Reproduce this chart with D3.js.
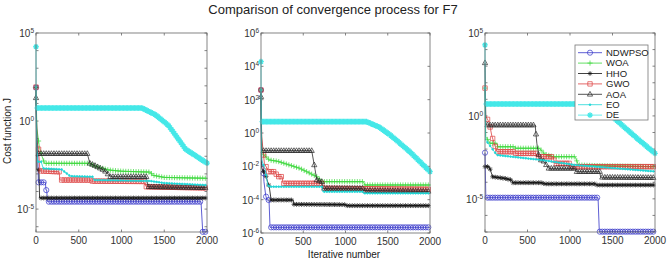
<!DOCTYPE html>
<html>
<head>
<meta charset="utf-8">
<style>
  body { margin: 0; background: #fff; }
  svg { display: block; font-family: "Liberation Sans", Arial, sans-serif; }
  .box { fill: none; stroke: #666; stroke-width: 0.8px; }
  .tick { stroke: #666; stroke-width: 0.8px; }
  .tick-label { font-size: 10px; fill: #333; }
</style>
</head>
<body>
<svg id="chart" width="668" height="261"></svg>
<script src="https://cdn.jsdelivr.net/npm/d3@7"></script>
<script>
// algorithm names, in plotting / legend order
const algorithms = ["NDWPSO", "WOA", "HHO", "GWO", "AOA", "EO", "DE"];
const iterTicks = [0, 500, 1000, 1500, 2000];

// every series: [iteration, log10(cost)]
// left panel
const a_NDWPSO = [[0,1.9],[12,-1.74],[20,-1.74],[28,-3.48],[110,-3.48],[117,-3.92],[125,-3.92],[135,-4.58],[1930,-4.58],[1950,-6.29],[2000,-6.29]];
const a_WOA = [[0,1.9],[10,-0.4],[40,-1.5],[70,-2.0],[100,-2.4],[620,-2.4],[680,-2.55],[850,-2.78],[1000,-2.85],[1340,-2.9],[1360,-3.07],[1500,-3.2],[2000,-3.25]];
const a_HHO = [[0,1.9],[10,-2.78],[35,-2.78],[42,-4.37],[2000,-4.37]];
const a_GWO = [[0,1.93],[10,-1.08],[30,-1.6],[45,-2.83],[270,-2.88],[280,-3.35],[630,-3.35],[650,-3.41],[1260,-3.43],[1290,-3.73],[2000,-3.8]];
const a_AOA = [[0,1.32],[15,-1.85],[600,-1.85],[630,-2.4],[700,-2.55],[800,-2.8],[870,-3.16],[1290,-3.16],[1310,-3.73],[2000,-3.78]];
const a_EO = [[0,1.93],[8,-1.3],[20,-2.31],[60,-2.31],[85,-2.69],[300,-2.75],[400,-3.13],[660,-3.16],[680,-3.35],[1330,-3.4],[1500,-3.52],[2000,-3.64]];
const a_DE = [[0,4.22],[2,0.74],[1240,0.74],[1400,0.35],[1550,-0.25],[1750,-1.6],[2000,-2.39]];

// middle panel
const b_NDWPSO = [[0,2.58],[8,-1.92],[25,-1.92],[35,-2.92],[55,-3.72],[70,-4.02],[95,-4.02],[107,-5.66],[2000,-5.66]];
const b_WOA = [[0,2.58],[8,-1.0],[30,-1.3],[100,-1.62],[200,-1.7],[460,-2.12],[660,-2.62],[720,-2.92],[1210,-2.92],[1230,-3.12],[2000,-3.12]];
const b_HHO = [[0,2.58],[8,-2.1],[60,-2.6],[100,-3.3],[120,-4.02],[380,-4.02],[390,-4.28],[1000,-4.3],[1020,-4.36],[2000,-4.36]];
const b_GWO = [[0,2.58],[8,-0.22],[40,-1.82],[90,-2.32],[170,-2.32],[190,-2.62],[250,-2.62],[260,-3.02],[720,-3.02],[730,-3.32],[2000,-3.38]];
const b_AOA = [[0,2.18],[10,-1.06],[600,-1.06],[640,-2.2],[660,-2.82],[720,-2.92],[730,-3.32],[1200,-3.32],[1210,-3.45],[2000,-3.5]];
const b_EO = [[0,2.58],[8,-1.62],[50,-2.2],[80,-3.12],[100,-3.22],[720,-3.22],[730,-3.52],[1200,-3.52],[1210,-3.62],[2000,-3.62]];
const b_DE = [[0,4.28],[2,0.68],[1250,0.68],[1400,0.35],[1530,-0.12],[1760,-1.12],[2000,-2.32]];

// right panel
const c_NDWPSO = [[0,-2.22],[10,-4.93],[1330,-4.93],[1345,-6.98],[2000,-6.98]];
const c_WOA = [[0,1.68],[8,-1.25],[60,-1.65],[140,-1.65],[150,-1.86],[350,-1.86],[360,-1.95],[640,-1.95],[700,-2.3],[800,-2.46],[1060,-2.46],[1100,-2.96],[1300,-3.0],[2000,-3.06]];
const c_HHO = [[0,-3.06],[50,-3.06],[90,-3.67],[235,-3.77],[315,-3.87],[330,-4.03],[670,-4.03],[700,-4.1],[1300,-4.1],[1320,-4.17],[2000,-4.17]];
const c_GWO = [[0,1.68],[8,0.0],[50,-0.4],[80,-1.2],[140,-2.16],[350,-2.16],[360,-2.26],[600,-2.26],[610,-2.46],[800,-2.46],[820,-2.86],[1000,-2.86],[1010,-3.06],[2000,-3.06]];
const c_AOA = [[0,3.2],[10,-0.55],[590,-0.55],[610,-1.65],[640,-2.66],[680,-2.66],[750,-3.16],[1060,-3.16],[1070,-3.36],[1350,-3.36],[1360,-3.7],[2000,-3.72]];
const c_EO = [[0,1.68],[8,-1.45],[140,-2.36],[670,-2.66],[1060,-2.96],[2000,-3.35]];
const c_DE = [[0,4.28],[2,0.72],[1330,0.72],[1412,0.36],[1600,-0.5],[1800,-1.4],[2000,-2.26]];

const colors = {
  NDWPSO: "#3535c8", WOA: "#3cd83c", HHO: "#111111", GWO: "#dd4040",
  AOA: "#2a2a2a", EO: "#1fd6d6", DE: "#45e8e8"
};

// marker shapes, matlab style
const markerPath = {
  NDWPSO: "M2.6,0A2.6,2.6 0 1,1 -2.6,0A2.6,2.6 0 1,1 2.6,0Z",
  WOA: "M-2.6,0H2.6M0,-2.6V2.6",
  HHO: "M-2.4,0H2.4M0,-2.4V2.4M-1.7,-1.7L1.7,1.7M-1.7,1.7L1.7,-1.7",
  GWO: "M-2.2,-2.2H2.2V2.2H-2.2Z",
  AOA: "M0,-2.9L2.6,1.8H-2.6Z",
  EO: "M0.9,0A0.9,0.9 0 1,1 -0.9,0A0.9,0.9 0 1,1 0.9,0Z",
  DE: "M-2.8,0H2.8M0,-2.8V2.8M-2,-2L2,2M-2,2L2,-2"
};

const panels = [
  { left: 36, right: 207, top: 33, bottom: 232, yMin: -6.3, yMax: 5,
    tickExps: d3.range(-6, 6), labelExps: [-5, 0, 5],
    series: { NDWPSO: a_NDWPSO, WOA: a_WOA, HHO: a_HHO, GWO: a_GWO, AOA: a_AOA, EO: a_EO, DE: a_DE } },
  { left: 261, right: 430, top: 33, bottom: 233, yMin: -6, yMax: 6,
    tickExps: [-6, -4, -2, 0, 2, 4, 6], labelExps: [-6, -4, -2, 0, 2, 4, 6],
    series: { NDWPSO: b_NDWPSO, WOA: b_WOA, HHO: b_HHO, GWO: b_GWO, AOA: b_AOA, EO: b_EO, DE: b_DE } },
  { left: 485, right: 655, top: 33, bottom: 232, yMin: -7, yMax: 5,
    tickExps: d3.range(-7, 6), labelExps: [-5, 0, 5],
    series: { NDWPSO: c_NDWPSO, WOA: c_WOA, HHO: c_HHO, GWO: c_GWO, AOA: c_AOA, EO: c_EO, DE: c_DE } }
];

const svg = d3.select("#chart");
svg.append("rect").attr("width", 668).attr("height", 261).attr("fill", "#fff");

// find the point on a drawn path at a given screen x (x grows along path)
function pointAtX(node, px) {
  let lo = 0, hi = node.getTotalLength();
  for (let k = 0; k < 30; k++) {
    const mid = (lo + hi) / 2;
    if (node.getPointAtLength(mid).x < px) lo = mid; else hi = mid;
  }
  return node.getPointAtLength(hi);
}

panels.forEach(function(p) {
  const x = d3.scaleLinear().domain([0, 2000]).range([p.left, p.right]);
  const y = d3.scaleLog().domain([Math.pow(10, p.yMin), Math.pow(10, p.yMax)]).range([p.bottom, p.top]);
  const g = svg.append("g");

  // ticks (inward, on all four sides)
  iterTicks.forEach(function(t) {
    g.append("line").attr("class", "tick").attr("x1", x(t)).attr("x2", x(t)).attr("y1", p.bottom).attr("y2", p.bottom - 2.5);
    g.append("line").attr("class", "tick").attr("x1", x(t)).attr("x2", x(t)).attr("y1", p.top).attr("y2", p.top + 2.5);
    g.append("text").attr("class", "tick-label").attr("x", x(t)).attr("y", p.bottom + 12)
      .attr("text-anchor", "middle").text(t);
  });
  p.tickExps.forEach(function(e) {
    const yy = y(Math.pow(10, e));
    g.append("line").attr("class", "tick").attr("x1", p.left).attr("x2", p.left + 2.5).attr("y1", yy).attr("y2", yy);
    g.append("line").attr("class", "tick").attr("x1", p.right).attr("x2", p.right - 2.5).attr("y1", yy).attr("y2", yy);
  });
  p.labelExps.forEach(function(e) {
    const yy = y(Math.pow(10, e));
    const t = g.append("text").attr("class", "tick-label").attr("text-anchor", "end")
      .attr("x", p.left - 2).attr("y", yy + 4);
    t.append("tspan").text("10");
    t.append("tspan").attr("dy", -4).style("font-size", "6.5px").text(e);
  });

  const line = d3.line().x(d => x(d[0])).y(d => y(Math.pow(10, d[1])));

  algorithms.forEach(function(name) {
    const data = p.series[name];
    const path = g.append("path").datum(data)
      .attr("d", line).attr("fill", "none")
      .attr("stroke", colors[name]).attr("stroke-width", 0.8);
    const step = name === "DE" ? 16 : 30;
    const pts = d3.range(0, 2001, step).map(t => pointAtX(path.node(), x(t)));
    g.selectAll(null).data(pts).enter().append("path")
      .attr("transform", d => "translate(" + d.x + "," + d.y + ")")
      .attr("d", markerPath[name])
      .attr("fill", name === "EO" ? colors[name] : "none")
      .attr("stroke", colors[name])
      .attr("stroke-width", name === "DE" ? 1.3 : 0.7);
  });

  g.append("rect").attr("class", "box")
    .attr("x", p.left).attr("y", p.top)
    .attr("width", p.right - p.left).attr("height", p.bottom - p.top);
});

// legend in the right panel
const legend = svg.append("g");
legend.append("rect").attr("x", 575).attr("y", 45).attr("width", 73).attr("height", 75)
  .attr("fill", "#fff").attr("stroke", "#777").attr("stroke-width", 0.8);
algorithms.forEach(function(name, i) {
  const yy = 52.7 + i * 10.4;
  legend.append("line").attr("x1", 578).attr("x2", 602).attr("y1", yy).attr("y2", yy)
    .attr("stroke", colors[name]).attr("stroke-width", 0.8);
  legend.append("path").attr("transform", "translate(590," + yy + ")")
    .attr("d", markerPath[name])
    .attr("fill", name === "EO" ? colors[name] : "none")
    .attr("stroke", colors[name]).attr("stroke-width", name === "DE" ? 1.3 : 0.7);
  legend.append("text").attr("x", 606).attr("y", yy + 3.3)
    .style("font-size", "9.5px").attr("fill", "#222").text(name);
});

// titles
svg.append("text").attr("x", 333).attr("y", 14).attr("text-anchor", "middle")
  .style("font-size", "13px").attr("fill", "#222")
  .text("Comparison of convergence process for F7");
svg.append("text").attr("transform", "translate(11,131) rotate(-90)").attr("text-anchor", "middle")
  .style("font-size", "10px").attr("fill", "#222").text("Cost function J");
svg.append("text").attr("x", 344).attr("y", 258).attr("text-anchor", "middle")
  .style("font-size", "10px").attr("fill", "#222").text("Iterative number");
</script>
</body>
</html>
